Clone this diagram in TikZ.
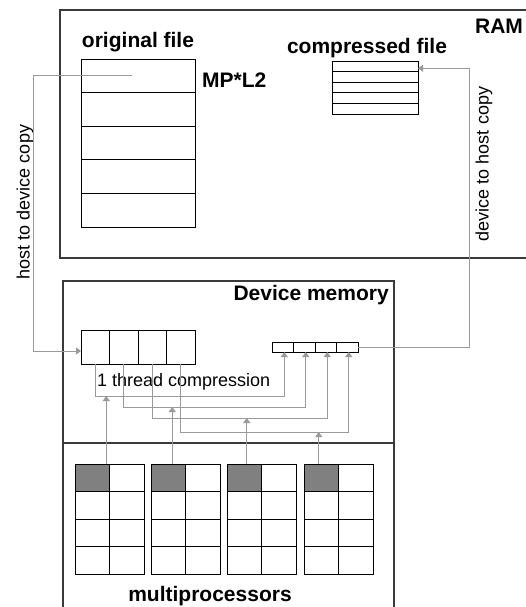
\documentclass[tikz,border=0pt]{standalone}
\usepackage{fontspec}
\setmainfont{Liberation Sans}
\usetikzlibrary{arrows.meta,calc}
\definecolor{conn}{HTML}{9A9A9A}
\definecolor{shade}{HTML}{808080}
\definecolor{frame}{HTML}{3A3A3A}
\begin{document}
\begin{tikzpicture}[x=1pt,y=-1pt,
  cellbox/.style={draw=black, line width=0.9pt, rectangle, inner sep=0pt, outer sep=0pt},
  framebox/.style={draw=frame, line width=1.2pt},
  conline/.style={draw=conn, line width=1pt},
  arr/.style={conline, -{Triangle[width=7pt,length=5pt]}},
  title/.style={font=\bfseries\fontsize{21}{25}\selectfont, inner sep=0pt},
  small/.style={font=\fontsize{18}{21}\selectfont, inner sep=0pt}
]
\useasboundingbox (0,0) rectangle (526,607);

% RAM frame (right side off picture)
\draw[framebox] (540,10) -- (60,10) -- (60,258) -- (540,258);
% Device memory frame
\draw[framebox] (63,620) -- (63,281) -- (394,281) -- (394,620);
\draw[framebox] (63,443) -- (394,443);

% titles
\node[title] (tram) at (499,26) {RAM};
\node[title] (torig) at (138,42) {original file};
\node[title] (tcomp) at (367,48) {compressed file};
\node[title, anchor=west] (tmp) at (202,80) {MP*L2};
\node[title, anchor=east] (tdev) at (389,295) {Device memory};
\node[title] (tmulti) at (210,596) {multiprocessors};
\node[small, anchor=west] (tthr) at (97,382) {1 thread compression};
\node[small, rotate=90] (th2d) at (25,202) {host to device copy};
\node[small, rotate=90] (td2h) at (484,164) {device to host copy};

% original file
\foreach \i in {1,...,5}
  \node[cellbox, minimum width=114pt, minimum height=33.6pt] (of\i) at (138,{59+16.8+33.6*(\i-1)}) {};
% compressed file
\foreach \i in {1,...,5}
  \node[cellbox, minimum width=86pt, minimum height=10.6pt] (cf\i) at (375,{61+5.3+10.6*(\i-1)}) {};
% device copy of file
\foreach \i in {1,...,4}
  \node[cellbox, minimum width=28.5pt, minimum height=34pt] (dv\i) at ({81+14.25+28.5*(\i-1)},347) {};
% device compressed
\foreach \i in {1,...,4}
  \node[cellbox, minimum width=21.5pt, minimum height=10pt] (sm\i) at ({272+10.75+21.5*(\i-1)},347) {};

% multiprocessors
\foreach \g/\gx in {1/75,2/151,3/227,4/304}{
  \foreach \r in {1,...,4}{
    \foreach \c in {1,2}{
      \pgfmathtruncatemacro\isdark{(\r==1)&&(\c==1)}
      \ifnum\isdark=1 \def\fc{shade}\else\def\fc{white}\fi
      \node[cellbox, fill=\fc, minimum width=34.5pt, minimum height=27.5pt]
        (mp\g-\r-\c) at ({\gx+17.25+34.5*(\c-1)},{464+13.75+27.5*(\r-1)}) {};
    }
  }
}

% levels
\coordinate (lv1) at (0,396);
\coordinate (lv2) at (0,407);
\coordinate (lv3) at (0,418);
\coordinate (lv4) at (0,432);
\coordinate (hx) at (39,0);
\coordinate (dx) at (469,0);

% host to device copy
\draw[arr] ([xshift=-6pt]of1.center) -- ([xshift=-6pt]of1.center -| hx) |- ([yshift=-4pt]dv1.west);
% device to host copy
\draw[arr] (sm4.east) -- (sm4.east -| dx) |- ([yshift=-2pt]cf1.east);

% thread compression connectors
\foreach \i in {1,...,4}
  \draw[arr] (dv\i.south) |- ([xshift=1.5pt]sm\i.south |- lv\i) -- ([xshift=1.5pt]sm\i.south);

% multiprocessor connectors
\foreach \g/\sh in {1/14,2/4,3/2.5,4/-2.5}
  \draw[arr] ([xshift=\sh pt]mp\g-1-1.north) -- ([xshift=\sh pt]mp\g-1-1.north |- lv\g);
\end{tikzpicture}
\end{document}
